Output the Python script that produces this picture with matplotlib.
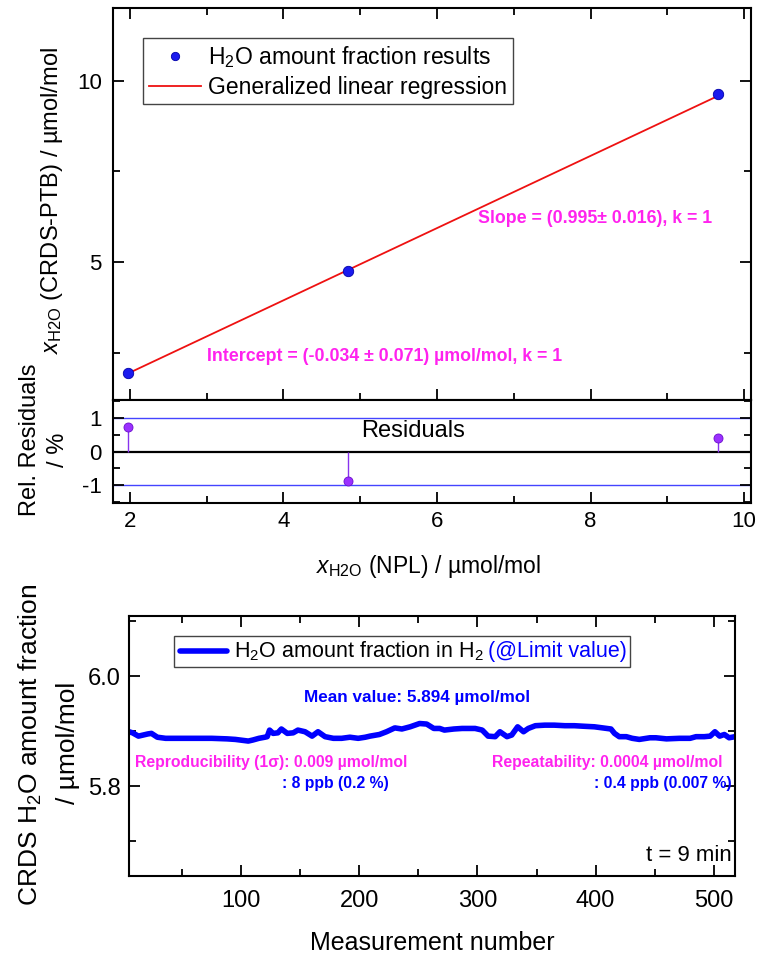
import numpy as np
import matplotlib
matplotlib.use('Agg')
import matplotlib.pyplot as plt
from matplotlib.ticker import MultipleLocator, FormatStrFormatter
from matplotlib.offsetbox import AnchoredOffsetbox, HPacker, TextArea, DrawingArea
from matplotlib.lines import Line2D

plt.rcParams['font.family'] = ['Liberation Sans', 'DejaVu Sans']
plt.rcParams['mathtext.fontset'] = 'custom'
plt.rcParams['mathtext.rm'] = 'Liberation Sans'
plt.rcParams['mathtext.it'] = 'Liberation Sans:italic'
plt.rcParams['axes.linewidth'] = 1.5

# --- comparison CRDS-PTB vs NPL (top) ---
x_npl = [1.98, 4.84, 9.66]
x_crds = [1.94, 4.75, 9.64]
rel_resid = [0.72, -0.87, 0.41]     # %
slope = 0.995
intercept = -0.034

# --- CRDS time series at limit value (bottom) ---
meas_n = [5, 8, 13, 17, 21, 24, 29, 36, 45, 58, 75, 88, 95, 106, 110, 115, 120, 122,
          124, 127, 131, 134, 139, 144, 148, 154, 160, 165, 171, 178, 185, 192, 199,
          205, 209, 217, 223, 230, 236, 243, 251, 257, 263, 268, 272, 280, 287, 298,
          304, 309, 315, 319, 325, 329, 334, 339, 343, 349, 357, 365, 374, 382, 390,
          399, 406, 413, 416, 420, 426, 431, 437, 446, 451, 460, 471, 480, 485, 492,
          497, 501, 505, 509, 513, 518]
h2o_vals = [5.899, 5.897, 5.891, 5.893, 5.895, 5.896, 5.889, 5.887, 5.887, 5.887,
            5.887, 5.886, 5.885, 5.882, 5.884, 5.887, 5.889, 5.890, 5.902, 5.896,
            5.897, 5.904, 5.896, 5.897, 5.902, 5.899, 5.891, 5.899, 5.890, 5.887,
            5.887, 5.889, 5.887, 5.889, 5.891, 5.894, 5.899, 5.906, 5.904, 5.908,
            5.914, 5.913, 5.905, 5.905, 5.902, 5.904, 5.905, 5.905, 5.902, 5.891,
            5.890, 5.899, 5.890, 5.893, 5.908, 5.899, 5.905, 5.910, 5.911, 5.911,
            5.910, 5.910, 5.909, 5.908, 5.906, 5.904, 5.896, 5.890, 5.890, 5.887,
            5.885, 5.888, 5.888, 5.886, 5.887, 5.887, 5.890, 5.890, 5.891, 5.899,
            5.891, 5.894, 5.888, 5.890]

W, H = 769, 958
fig = plt.figure(figsize=(W / 100, H / 100), dpi=100)

def box(l, t, r, b):
    return [l / W, 1 - b / H, (r - l) / W, (b - t) / H]

ax1 = fig.add_axes(box(113, 8, 751, 400))
ax2 = fig.add_axes(box(113, 400, 751, 503), sharex=ax1)
ax3 = fig.add_axes(box(129, 616, 735, 876))

# main panel
fit_x = np.array([min(x_npl), max(x_npl)])
ax1.plot(fit_x, slope * fit_x + intercept, color='#ee1111', lw=1.3, zorder=2,
         label='Generalized linear regression')
ax1.plot(x_npl, x_crds, 'o', color='#1a1aee', mec='#0000aa', mew=0.6, ms=7.5, zorder=3,
         label='H$_2$O amount fraction results')
ax1.set_xlim(1.78, 10.09)
ax1.set_ylim(1.2, 12.0)
ax1.yaxis.set_major_locator(MultipleLocator(5))
ax1.yaxis.set_minor_locator(MultipleLocator(2.5))
ax1.xaxis.set_major_locator(MultipleLocator(2))
ax1.xaxis.set_minor_locator(MultipleLocator(1))
ax1.tick_params(which='both', direction='in', top=True, right=True, width=1.3,
                labelsize=16, pad=8)
ax1.tick_params(which='major', length=8)
ax1.tick_params(which='minor', length=5)
ax1.tick_params(axis='x', labelbottom=False)

h, l = ax1.get_legend_handles_labels()
leg = ax1.legend(h[::-1], l[::-1], loc='upper left', bbox_to_anchor=(0.047, 0.923),
                 fontsize=16.5, frameon=True, fancybox=False, framealpha=1,
                 edgecolor='#444444', handlelength=2.3, handletextpad=0.3,
                 borderpad=0.25, labelspacing=0.25, borderaxespad=0, markerscale=0.8)
leg.get_frame().set_linewidth(1.0)

ax1.text(0.572, 0.463, 'Slope = (0.995\u00b1 0.016), k = 1', transform=ax1.transAxes,
         color='#ff22ee', fontsize=12.8, fontweight='bold', va='center')
ax1.text(0.147, 0.111, 'Intercept = (-0.034 \u00b1 0.071) \u00b5mol/mol, k = 1',
         transform=ax1.transAxes, color='#ff22ee', fontsize=12.8, fontweight='bold',
         va='center')

# residual panel
ax2.axhline(1, color='#4444ff', lw=1.0, zorder=1)
ax2.axhline(-1, color='#4444ff', lw=1.0, zorder=1)
ax2.axhline(0, color='black', lw=1.6, zorder=1)
ax2.vlines(x_npl, 0, rel_resid, color='#8833ee', lw=1.0, zorder=2)
ax2.plot(x_npl, rel_resid, 'o', color='#9b30ff', mec='#6a0dcc', mew=0.6, ms=6.5, zorder=3)
ax2.set_ylim(-1.54, 1.54)
ax2.yaxis.set_major_locator(MultipleLocator(1))
ax2.yaxis.set_minor_locator(MultipleLocator(0.5))
ax2.tick_params(which='both', direction='in', top=False, right=True, width=1.3,
                labelsize=16)
ax2.tick_params(axis='y', pad=8)
ax2.tick_params(axis='x', pad=6)
ax2.tick_params(which='major', length=8)
ax2.tick_params(which='minor', length=5)
ax2.set_yticks([-1, 0, 1])
ax2.set_yticklabels(['-1', '0', '1'])
ax2.text(0.47, 0.7, 'Residuals', transform=ax2.transAxes, ha='center', va='center',
         fontsize=17)

fig.text(52 / W, 1 - 201 / H, '$x_{\\mathrm{H2O}}$ (CRDS-PTB) / \u00b5mol/mol',
         rotation=90, ha='center', va='center', fontsize=17)
fig.text(30 / W, 1 - 440 / H, 'Rel. Residuals', rotation=90, ha='center', va='center',
         fontsize=17)
fig.text(58 / W, 1 - 450 / H, '/ %', rotation=90, ha='center', va='center', fontsize=17)
fig.text(428 / W, 1 - 567 / H, '$x_{\\mathrm{H2O}}$ (NPL) / \u00b5mol/mol', ha='center',
         va='center', fontsize=16.5)

# bottom panel
ax3.plot(meas_n, h2o_vals, color='#0000ff', lw=4.0, solid_joinstyle='round',
         solid_capstyle='round')
ax3.set_xlim(5, 518)
ax3.set_ylim(5.636, 6.11)
ax3.xaxis.set_major_locator(MultipleLocator(100))
ax3.xaxis.set_minor_locator(MultipleLocator(50))
ax3.yaxis.set_major_locator(MultipleLocator(0.2))
ax3.yaxis.set_minor_locator(MultipleLocator(0.1))
ax3.yaxis.set_major_formatter(FormatStrFormatter('%.1f'))
ax3.tick_params(which='both', direction='in', top=True, right=True, width=1.3,
                labelsize=17)
ax3.tick_params(axis='x', pad=10)
ax3.tick_params(axis='y', pad=6)
ax3.tick_params(which='major', length=8)
ax3.tick_params(which='minor', length=5)

da = DrawingArea(38, 12, 0, 0)
da.add_artist(Line2D([2, 36], [6, 6], color='#0000ff', lw=4.0, solid_capstyle='round'))
t1 = TextArea('H$_2$O amount fraction in H$_2$', textprops=dict(fontsize=15.5, color='black'))
t2 = TextArea('(@Limit value)', textprops=dict(fontsize=15.5, color='#0000ff'))
pack = HPacker(children=[da, t1, t2], align='center', pad=0, sep=3)
anch = AnchoredOffsetbox(loc='upper left', child=pack, pad=0.25, borderpad=0,
                         frameon=True, bbox_to_anchor=(0.074, 0.923),
                         bbox_transform=ax3.transAxes)
anch.patch.set_edgecolor('#444444')
anch.patch.set_linewidth(1.0)
anch.patch.set_boxstyle('square', pad=0)
ax3.add_artist(anch)

ax3.text(0.475, 0.685, 'Mean value: 5.894 \u00b5mol/mol', transform=ax3.transAxes,
         ha='center', va='center', color='#0000ff', fontsize=12.3, fontweight='bold')
ax3.text(0.01, 0.438, 'Reproducibility (1\u03c3): 0.009 \u00b5mol/mol',
         transform=ax3.transAxes, ha='left', va='center', color='#ff22ee',
         fontsize=11.3, fontweight='bold')
ax3.text(0.253, 0.354, ': 8 ppb (0.2 %)', transform=ax3.transAxes, ha='left',
         va='center', color='#0000ff', fontsize=11.3, fontweight='bold')
ax3.text(0.98, 0.438, 'Repeatability: 0.0004 \u00b5mol/mol', transform=ax3.transAxes,
         ha='right', va='center', color='#ff22ee', fontsize=11.3, fontweight='bold')
ax3.text(0.995, 0.354, ': 0.4 ppb (0.007 %)', transform=ax3.transAxes, ha='right',
         va='center', color='#0000ff', fontsize=11.3, fontweight='bold')
ax3.text(0.995, 0.08, 't = 9 min', transform=ax3.transAxes, ha='right', va='center',
         fontsize=16)

fig.text(30 / W, 1 - 745 / H, 'CRDS H$_2$O amount fraction', rotation=90, ha='center',
         va='center', fontsize=19)
fig.text(68 / W, 1 - 743 / H, '/ \u00b5mol/mol', rotation=90, ha='center', va='center',
         fontsize=19)
fig.text(432 / W, 1 - 943 / H, 'Measurement number', ha='center', va='center',
         fontsize=18)

fig.savefig('out.png', dpi=100)
